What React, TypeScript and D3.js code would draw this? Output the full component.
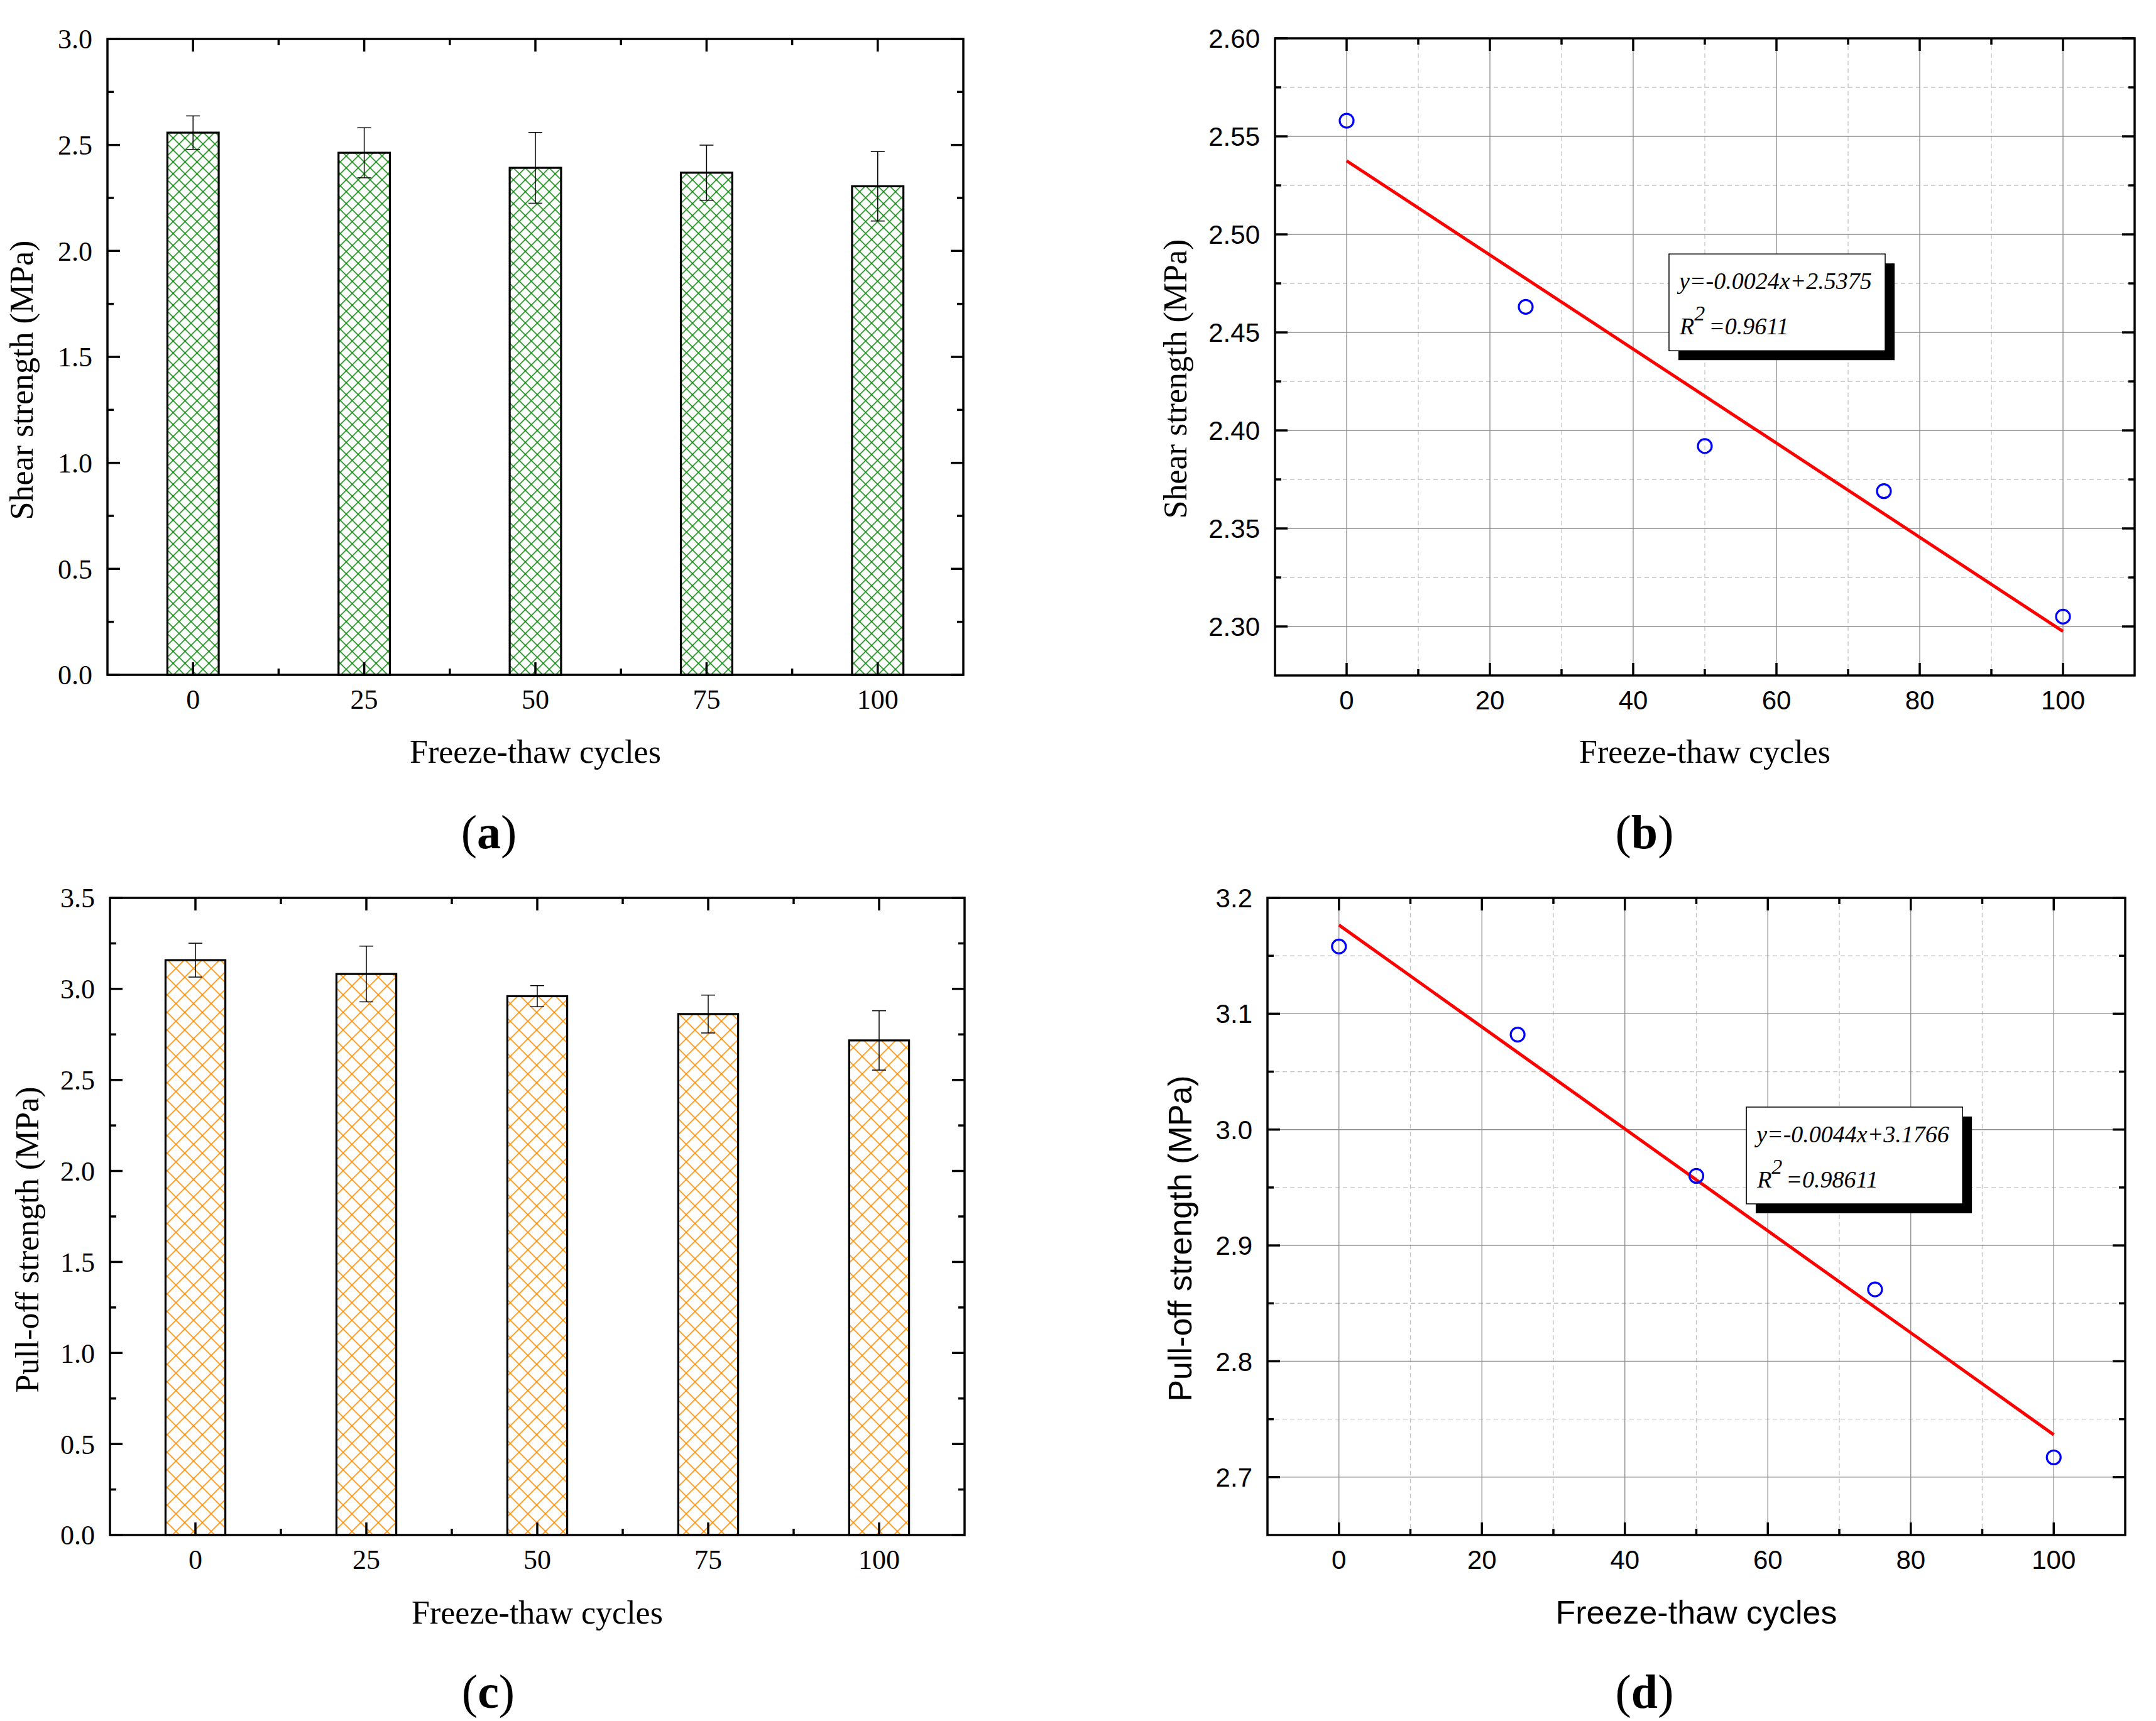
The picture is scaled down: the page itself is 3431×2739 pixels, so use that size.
import * as d3 from "d3";
import React from "react";

// data
const cycleLabels = ["0", "25", "50", "75", "100"];
const cycles = [0, 25, 50, 75, 100];
const shearMean = [2.558, 2.463, 2.392, 2.369, 2.305];
const shearErr = [0.079, 0.118, 0.167, 0.13, 0.164];
const pullMean = [3.158, 3.082, 2.96, 2.862, 2.717];
const pullErr = [0.093, 0.153, 0.058, 0.104, 0.163];
const shearFit = { slope: -0.0024, intercept: 2.5375 };
const pullFit = { slope: -0.0044, intercept: 3.1766 };
const shearEq = ["y=-0.0024x+2.5375", "=0.9611"];
const pullEq = ["y=-0.0044x+3.1766", "=0.98611"];

const W = 3431;
const H = 2739;
const serif = "'Liberation Serif', 'Times New Roman', serif";
const sans = "'Liberation Sans', Arial, sans-serif";
const AXW = 3.5;

type Box = { left: number; right: number; top: number; bottom: number };

const rng = (a: number, b: number, s: number) =>
  d3.range(a, b + s / 1000, s).map((v) => Math.round(v * 1e6) / 1e6);

// ticks pointing inward on all four sides
const Ticks: React.FC<{
  box: Box;
  xs: number[];
  xsMinor: number[];
  ys: number[];
  ysMinor: number[];
}> = ({ box, xs, xsMinor, ys, ysMinor }) => (
  <g stroke="#000" strokeWidth={AXW}>
    {xs.map((v, i) => (
      <g key={`xm${i}`}>
        <line x1={v} x2={v} y1={box.bottom} y2={box.bottom - 20} />
        <line x1={v} x2={v} y1={box.top} y2={box.top + 20} />
      </g>
    ))}
    {xsMinor.map((v, i) => (
      <g key={`xn${i}`}>
        <line x1={v} x2={v} y1={box.bottom} y2={box.bottom - 10} />
        <line x1={v} x2={v} y1={box.top} y2={box.top + 10} />
      </g>
    ))}
    {ys.map((v, i) => (
      <g key={`ym${i}`}>
        <line x1={box.left} x2={box.left + 20} y1={v} y2={v} />
        <line x1={box.right} x2={box.right - 20} y1={v} y2={v} />
      </g>
    ))}
    {ysMinor.map((v, i) => (
      <g key={`yn${i}`}>
        <line x1={box.left} x2={box.left + 10} y1={v} y2={v} />
        <line x1={box.right} x2={box.right - 10} y1={v} y2={v} />
      </g>
    ))}
    <rect
      x={box.left}
      y={box.top}
      width={box.right - box.left}
      height={box.bottom - box.top}
      fill="none"
    />
  </g>
);

const Caption: React.FC<{ x: number; y: number; t: string }> = ({ x, y, t }) => (
  <text x={x} y={y} textAnchor="middle" fontFamily={serif} fontSize={76}>
    (<tspan fontWeight="bold">{t}</tspan>)
  </text>
);

const BarPanel: React.FC<{
  id: string;
  box: Box;
  values: number[];
  errors: number[];
  yMax: number;
  color: string;
  period: number;
  barFrac: number;
  yLabel: string;
  ylx: number;
  yly: number;
  xlBase: number;
  caption: string;
  capX: number;
  capY: number;
}> = (p) => {
  const { box } = p;
  const x = d3
    .scaleBand<string>()
    .domain(cycleLabels)
    .range([box.left, box.right])
    .paddingInner(1 - p.barFrac)
    .paddingOuter((1 - p.barFrac) / 2);
  const y = d3.scaleLinear().domain([0, p.yMax]).range([box.bottom, box.top]);
  const cx = (c: string) => x(c)! + x.bandwidth() / 2;
  const step = x.step();
  const s = p.period / Math.SQRT2;
  const major = rng(0, p.yMax, 0.5);
  const minor = rng(0.25, p.yMax - 0.25, 0.5);

  return (
    <g>
      <defs>
        <pattern
          id={p.id}
          patternUnits="userSpaceOnUse"
          width={s}
          height={s}
          patternTransform="rotate(45)"
        >
          <rect x={0} y={0} width={s} height={1.6} fill={p.color} />
          <rect x={0} y={0} width={1.6} height={s} fill={p.color} />
        </pattern>
      </defs>
      {p.values.map((v, i) => (
        <rect
          key={i}
          x={x(cycleLabels[i])}
          y={y(v)}
          width={x.bandwidth()}
          height={y(0) - y(v)}
          fill={`url(#${p.id})`}
          stroke="#000"
          strokeWidth={3.2}
        />
      ))}
      {p.values.map((v, i) => {
        const c = cx(cycleLabels[i]);
        const hi = y(v + p.errors[i]);
        const lo = y(v - p.errors[i]);
        return (
          <g key={`e${i}`} stroke="#000" strokeWidth={1.5}>
            <line x1={c} x2={c} y1={hi} y2={lo} />
            <line x1={c - 11} x2={c + 11} y1={hi} y2={hi} />
            <line x1={c - 11} x2={c + 11} y1={lo} y2={lo} />
          </g>
        );
      })}
      <Ticks
        box={box}
        xs={cycleLabels.map(cx)}
        xsMinor={[1, 2, 3, 4].map((k) => box.left + k * step)}
        ys={major.map(y)}
        ysMinor={minor.map(y)}
      />
      <g fontFamily={serif} fontSize={44}>
        {major.map((t) => (
          <text key={t} x={box.left - 24} y={y(t)} dy="0.35em" textAnchor="end">
            {t.toFixed(1)}
          </text>
        ))}
        {cycleLabels.map((c) => (
          <text key={c} x={cx(c)} y={box.bottom + 54} textAnchor="middle">
            {c}
          </text>
        ))}
      </g>
      <text
        x={(box.left + box.right) / 2}
        y={p.xlBase}
        textAnchor="middle"
        fontFamily={serif}
        fontSize={52}
      >
        Freeze-thaw cycles
      </text>
      <text
        transform={`translate(${p.ylx},${p.yly}) rotate(-90)`}
        textAnchor="middle"
        fontFamily={serif}
        fontSize={52}
      >
        {p.yLabel}
      </text>
      <Caption x={p.capX} y={p.capY} t={p.caption} />
    </g>
  );
};

const ScatterPanel: React.FC<{
  box: Box;
  values: number[];
  fit: { slope: number; intercept: number };
  eq: string[];
  yDomain: [number, number];
  yStep: number;
  digits: number;
  boxAt: [number, number];
  labelFont: string;
  yLabel: string;
  ylx: number;
  yly: number;
  xlBase: number;
  caption: string;
  capX: number;
  capY: number;
}> = (p) => {
  const { box } = p;
  const x = d3.scaleLinear().domain([-10, 110]).range([box.left, box.right]);
  const y = d3.scaleLinear().domain(p.yDomain).range([box.bottom, box.top]);
  const [y0, y1] = p.yDomain;
  const yMajor = rng(Math.ceil(y0 / p.yStep - 1e-6) * p.yStep, y1, p.yStep);
  const yMinor = rng(yMajor[0] - p.yStep / 2, y1, p.yStep).filter(
    (v) => v > y0 + 1e-6 && v < y1 - 1e-6
  );
  const xMajor = rng(0, 100, 20);
  const xMinor = rng(10, 90, 20);
  const fitLine = d3
    .line<number>()
    .x((d) => x(d))
    .y((d) => y(p.fit.slope * d + p.fit.intercept));
  const bx = x(p.boxAt[0]);
  const by = y(p.boxAt[1]);

  return (
    <g>
      <g stroke="#c4c4c4" strokeWidth={1.3} strokeDasharray="7 5">
        {xMinor.map((v) => (
          <line key={v} x1={x(v)} x2={x(v)} y1={box.top} y2={box.bottom} />
        ))}
        {yMinor.map((v) => (
          <line key={v} x1={box.left} x2={box.right} y1={y(v)} y2={y(v)} />
        ))}
      </g>
      <g stroke="#8c8c8c" strokeWidth={1.3}>
        {xMajor.map((v) => (
          <line key={v} x1={x(v)} x2={x(v)} y1={box.top} y2={box.bottom} />
        ))}
        {yMajor.map((v) => (
          <line key={v} x1={box.left} x2={box.right} y1={y(v)} y2={y(v)} />
        ))}
      </g>
      <path
        d={fitLine([cycles[0], cycles[cycles.length - 1]]) ?? undefined}
        fill="none"
        stroke="#ff0000"
        strokeWidth={5}
      />
      {p.values.map((v, i) => (
        <circle
          key={i}
          cx={x(cycles[i])}
          cy={y(v)}
          r={11}
          fill="none"
          stroke="#0000ff"
          strokeWidth={3.2}
        />
      ))}
      <rect x={bx + 15} y={by + 15} width={344} height={154} fill="#000" />
      <rect x={bx} y={by} width={344} height={154} fill="#fff" stroke="#000" strokeWidth={1.5} />
      <g fontFamily={serif} fontStyle="italic" fontSize={38}>
        <text x={bx + 16} y={by + 56}>
          {p.eq[0]}
        </text>
        <text x={bx + 17} y={by + 128}>
          R
          <tspan dy={-22} fontSize={34}>
            2
          </tspan>
          <tspan dy={22} dx={6}>
            {p.eq[1]}
          </tspan>
        </text>
      </g>
      <Ticks
        box={box}
        xs={xMajor.map(x)}
        xsMinor={xMinor.map(x)}
        ys={yMajor.map(y)}
        ysMinor={yMinor.map(y)}
      />
      <g fontFamily={sans} fontSize={42}>
        {yMajor.map((t) => (
          <text key={t} x={box.left - 24} y={y(t)} dy="0.36em" textAnchor="end">
            {t.toFixed(p.digits)}
          </text>
        ))}
        {xMajor.map((t) => (
          <text key={t} x={x(t)} y={box.bottom + 54} textAnchor="middle">
            {t}
          </text>
        ))}
      </g>
      <text
        x={(box.left + box.right) / 2}
        y={p.xlBase}
        textAnchor="middle"
        fontFamily={p.labelFont}
        fontSize={52}
      >
        Freeze-thaw cycles
      </text>
      <text
        transform={`translate(${p.ylx},${p.yly}) rotate(-90)`}
        textAnchor="middle"
        fontFamily={p.labelFont}
        fontSize={52}
      >
        {p.yLabel}
      </text>
      <Caption x={p.capX} y={p.capY} t={p.caption} />
    </g>
  );
};

export default function App() {
  return (
    <div style={{ position: "absolute", left: 0, top: 0 }}>
      <svg width={W} height={H} viewBox={`0 0 ${W} ${H}`} style={{ display: "block", background: "#fff" }}>
        <rect width={W} height={H} fill="#fff" />
        <BarPanel
          id="hatchA"
          box={{ left: 171, right: 1533, top: 62, bottom: 1074 }}
          values={shearMean}
          errors={shearErr}
          yMax={3}
          color="#128a12"
          period={19}
          barFrac={0.3}
          yLabel="Shear strength (MPa)"
          ylx={52}
          yly={605}
          xlBase={1214}
          caption="a"
          capX={778}
          capY={1350}
        />
        <ScatterPanel
          box={{ left: 2029, right: 3397, top: 61, bottom: 1075 }}
          values={shearMean}
          fit={shearFit}
          eq={shearEq}
          yDomain={[2.275, 2.6]}
          yStep={0.05}
          digits={2}
          boxAt={[45, 2.49]}
          labelFont={serif}
          yLabel="Shear strength (MPa)"
          ylx={1888}
          yly={603}
          xlBase={1214}
          caption="b"
          capX={2617}
          capY={1350}
        />
        <BarPanel
          id="hatchC"
          box={{ left: 175, right: 1535, top: 1429, bottom: 2443 }}
          values={pullMean}
          errors={pullErr}
          yMax={3.5}
          color="#ff8c00"
          period={28}
          barFrac={0.35}
          yLabel="Pull-off strength (MPa)"
          ylx={61}
          yly={1973}
          xlBase={2584}
          caption="c"
          capX={777}
          capY={2718}
        />
        <ScatterPanel
          box={{ left: 2017, right: 3382, top: 1429, bottom: 2443 }}
          values={pullMean}
          fit={pullFit}
          eq={pullEq}
          yDomain={[2.65, 3.2]}
          yStep={0.1}
          digits={1}
          boxAt={[57, 3.0194]}
          labelFont={sans}
          yLabel="Pull-off strength (MPa)"
          ylx={1896}
          yly={1971}
          xlBase={2584}
          caption="d"
          capX={2617}
          capY={2718}
        />
      </svg>
    </div>
  );
}
